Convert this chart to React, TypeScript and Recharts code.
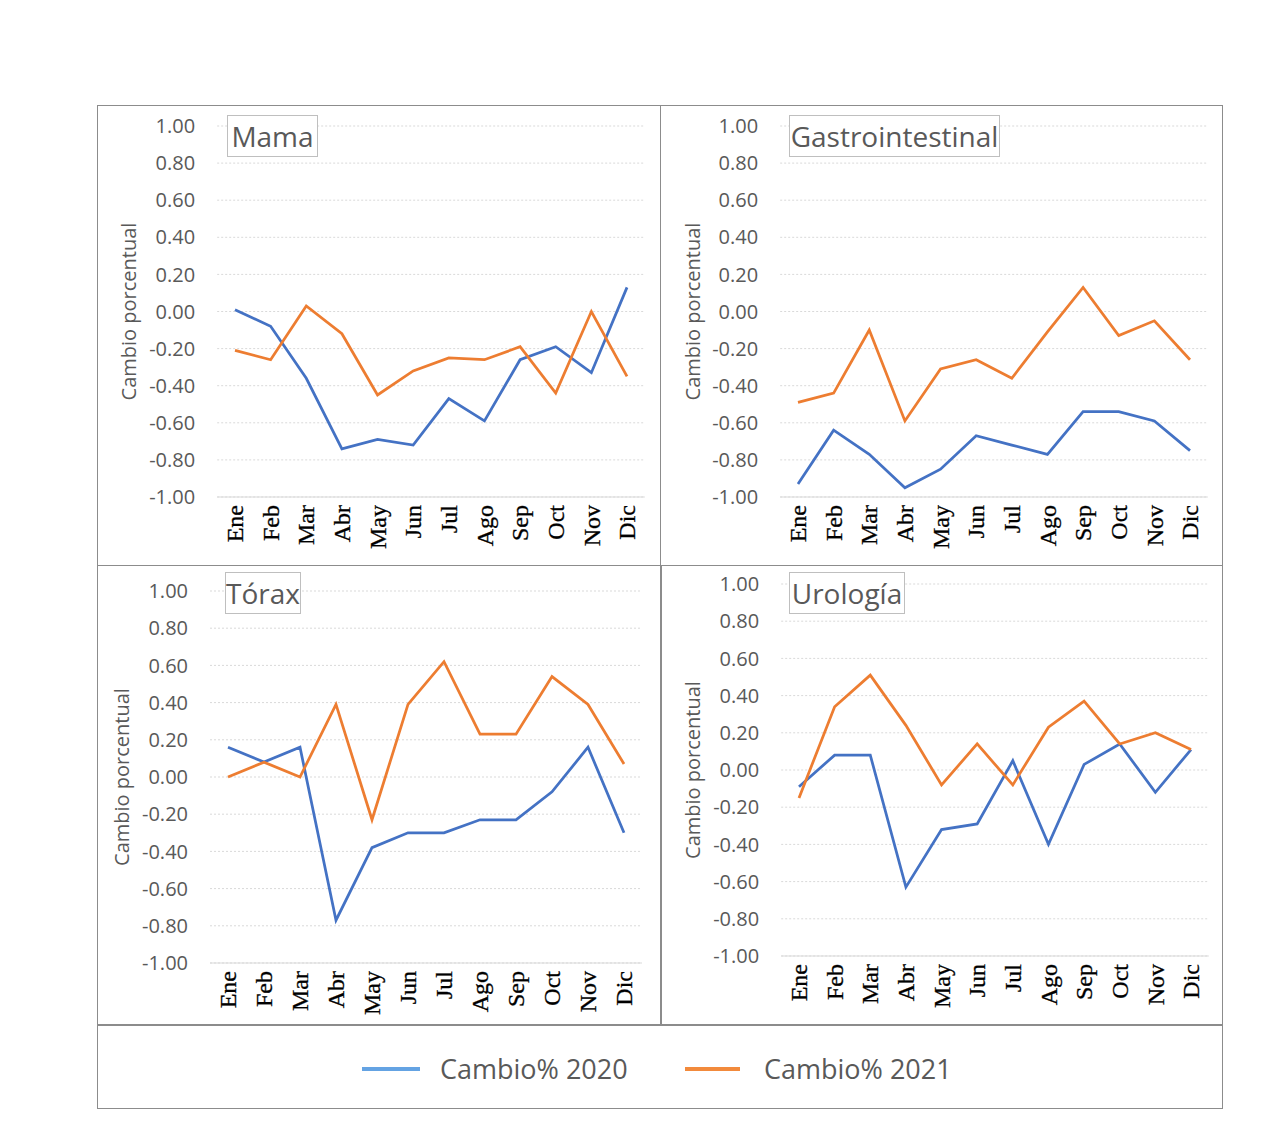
import React from 'react';
import { LineChart, Line, XAxis, YAxis, CartesianGrid, Label } from 'recharts';

const months = ['Ene', 'Feb', 'Mar', 'Abr', 'May', 'Jun', 'Jul', 'Ago', 'Sep', 'Oct', 'Nov', 'Dic'];
const yTicks = [-1, -0.8, -0.6, -0.4, -0.2, 0, 0.2, 0.4, 0.6, 0.8, 1];

const mama2020 = [0.01, -0.08, -0.36, -0.74, -0.69, -0.72, -0.47, -0.59, -0.26, -0.19, -0.33, 0.13];
const mama2021 = [-0.21, -0.26, 0.03, -0.12, -0.45, -0.32, -0.25, -0.26, -0.19, -0.44, 0.0, -0.35];
const gastro2020 = [-0.93, -0.64, -0.77, -0.95, -0.85, -0.67, -0.72, -0.77, -0.54, -0.54, -0.59, -0.75];
const gastro2021 = [-0.49, -0.44, -0.1, -0.59, -0.31, -0.26, -0.36, -0.11, 0.13, -0.13, -0.05, -0.26];
const torax2020 = [0.16, 0.08, 0.16, -0.77, -0.38, -0.3, -0.3, -0.23, -0.23, -0.08, 0.16, -0.3];
const torax2021 = [0.0, 0.08, 0.0, 0.39, -0.23, 0.39, 0.62, 0.23, 0.23, 0.54, 0.39, 0.07];
const uro2020 = [-0.09, 0.08, 0.08, -0.63, -0.32, -0.29, 0.05, -0.4, 0.03, 0.14, -0.12, 0.11];
const uro2021 = [-0.15, 0.34, 0.51, 0.24, -0.08, 0.14, -0.08, 0.23, 0.37, 0.14, 0.2, 0.11];

const BLUE = '#4472C4';
const ORANGE = '#ED7D31';
const GRAY_TEXT = '#595959';
const SANS = "'Open Sans', 'Noto Sans', sans-serif";

const PANEL_W = 563;
const PANEL_H = 460;
const Y_AXIS_W = 60;
const X_AXIS_H = 60;

const buildRows = (a: number[], b: number[]) =>
  months.map((m, i) => ({ mes: m, c2020: a[i], c2021: b[i] }));

// month labels, rotated and reading upward
const MonthTick = (props: any) => {
  const { x, y, payload } = props;
  return (
    <g transform={`translate(${x},${y})`}>
      <text
        transform="rotate(-90)"
        x={-8}
        dy="0.34em"
        textAnchor="end"
        fontFamily="'Liberation Serif', 'Times New Roman', serif"
        fontSize={24}
        stroke="#000"
        strokeWidth={0.3}
        fill="#000"
      >
        {payload.value}
      </text>
    </g>
  );
};

interface PanelProps {
  title: string;
  d2020: number[];
  d2021: number[];
  left: number;
  top: number;
  firstX: number;
  lastX: number;
  plotTop: number;
  plotBottom: number;
  labelX: number;
  box: { x: number; y: number; w: number; h: number };
}

const Panel: React.FC<PanelProps> = ({ title, d2020, d2021, left, top, firstX, lastX, plotTop, plotBottom, labelX, box }) => {
  const pad = (lastX - firstX) / 11 / 2;
  const gridLeft = firstX - pad;
  const gridRight = lastX + pad;
  const margin = {
    top: plotTop - top,
    left: gridLeft - left - Y_AXIS_W,
    right: left + PANEL_W - gridRight,
    bottom: PANEL_H - (plotBottom - top) - X_AXIS_H,
  };
  const data = buildRows(d2020, d2021);

  const renderYLabel = (p: any) => {
    const vb = p.viewBox || {};
    const cy = vb.y + vb.height / 2;
    const cx = labelX - left;
    return (
      <text
        x={cx}
        y={cy}
        transform={`rotate(-90, ${cx}, ${cy})`}
        textAnchor="middle"
        dominantBaseline="central"
        fontFamily={SANS}
        fontSize={20}
        fill={GRAY_TEXT}
      >
        Cambio porcentual
      </text>
    );
  };

  return (
    <>
      <div style={{ position: 'absolute', left, top }}>
        <LineChart width={PANEL_W} height={PANEL_H} data={data} margin={margin}>
          <CartesianGrid vertical={false} stroke="#d9d9d9" strokeDasharray="2 2" />
          <XAxis
            dataKey="mes"
            interval={0}
            height={X_AXIS_H}
            padding={{ left: pad, right: pad }}
            tickLine={false}
            tickSize={0}
            tickMargin={0}
            axisLine={{ stroke: '#d9d9d9' }}
            tick={<MonthTick />}
          />
          <YAxis
            width={Y_AXIS_W}
            domain={[-1, 1]}
            ticks={yTicks}
            interval={0}
            axisLine={false}
            tickLine={false}
            tickSize={0}
            tickMargin={22}
            tickFormatter={(v: number) => v.toFixed(2)}
            tick={{ fill: GRAY_TEXT, fontSize: 20, fontFamily: SANS }}
          >
            <Label content={renderYLabel} />
          </YAxis>
          <Line type="linear" dataKey="c2020" stroke={BLUE} strokeWidth={2.75} dot={false} isAnimationActive={false} />
          <Line type="linear" dataKey="c2021" stroke={ORANGE} strokeWidth={2.75} dot={false} isAnimationActive={false} />
        </LineChart>
      </div>
      <div
        style={{
          position: 'absolute',
          left: box.x,
          top: box.y,
          width: box.w,
          height: box.h,
          boxSizing: 'border-box',
          border: '1px solid #bfbfbf',
          background: '#fff',
          color: GRAY_TEXT,
          fontFamily: SANS,
          fontSize: 28,
          display: 'flex',
          alignItems: 'center',
          justifyContent: 'center',
          whiteSpace: 'nowrap',
        }}
      >
        {title}
      </div>
    </>
  );
};

const frame = (x: number, y: number, w: number, h: number): React.CSSProperties => ({
  position: 'absolute',
  left: x,
  top: y,
  width: w,
  height: h,
  boxSizing: 'border-box',
  border: '1px solid #8c8c8c',
});

export default function App() {
  return (
    <div style={{ position: 'absolute', left: 0, top: 0, width: 1265, height: 1136, background: '#fff' }}>
      <div style={frame(97, 105, 564, 461)} />
      <div style={frame(660, 105, 563, 461)} />
      <div style={frame(97, 565, 564, 460)} />
      <div style={frame(661, 565, 562, 460)} />
      <div style={frame(97, 1025, 1126, 84)} />

      <Panel title="Mama" d2020={mama2020} d2021={mama2021} left={97} top={105}
        firstX={235} lastX={627} plotTop={126} plotBottom={497} labelX={128}
        box={{ x: 227, y: 115, w: 91, h: 42 }} />
      <Panel title="Gastrointestinal" d2020={gastro2020} d2021={gastro2021} left={660} top={105}
        firstX={798} lastX={1190} plotTop={126} plotBottom={497} labelX={692}
        box={{ x: 789, y: 115, w: 211, h: 42 }} />
      <Panel title="Tórax" d2020={torax2020} d2021={torax2021} left={97} top={565}
        firstX={228} lastX={624} plotTop={591} plotBottom={963} labelX={121}
        box={{ x: 225, y: 572, w: 76, h: 42 }} />
      <Panel title="Urología" d2020={uro2020} d2021={uro2021} left={661} top={565}
        firstX={799} lastX={1191} plotTop={584} plotBottom={956} labelX={692}
        box={{ x: 789, y: 572, w: 116, h: 42 }} />

      <svg style={{ position: 'absolute', left: 0, top: 0 }} width={1265} height={1136} pointerEvents="none">
        <line x1={362} y1={1069} x2={420} y2={1069} stroke="#64a3e3" strokeWidth={4} />
        <line x1={685} y1={1069} x2={740} y2={1069} stroke="#f28a3c" strokeWidth={4} />
        <text x={440} y={1068} dominantBaseline="central" fontFamily={SANS} fontSize={27} fill={GRAY_TEXT}>
          Cambio% 2020
        </text>
        <text x={764} y={1068} dominantBaseline="central" fontFamily={SANS} fontSize={27} fill={GRAY_TEXT}>
          Cambio% 2021
        </text>
      </svg>
    </div>
  );
}
